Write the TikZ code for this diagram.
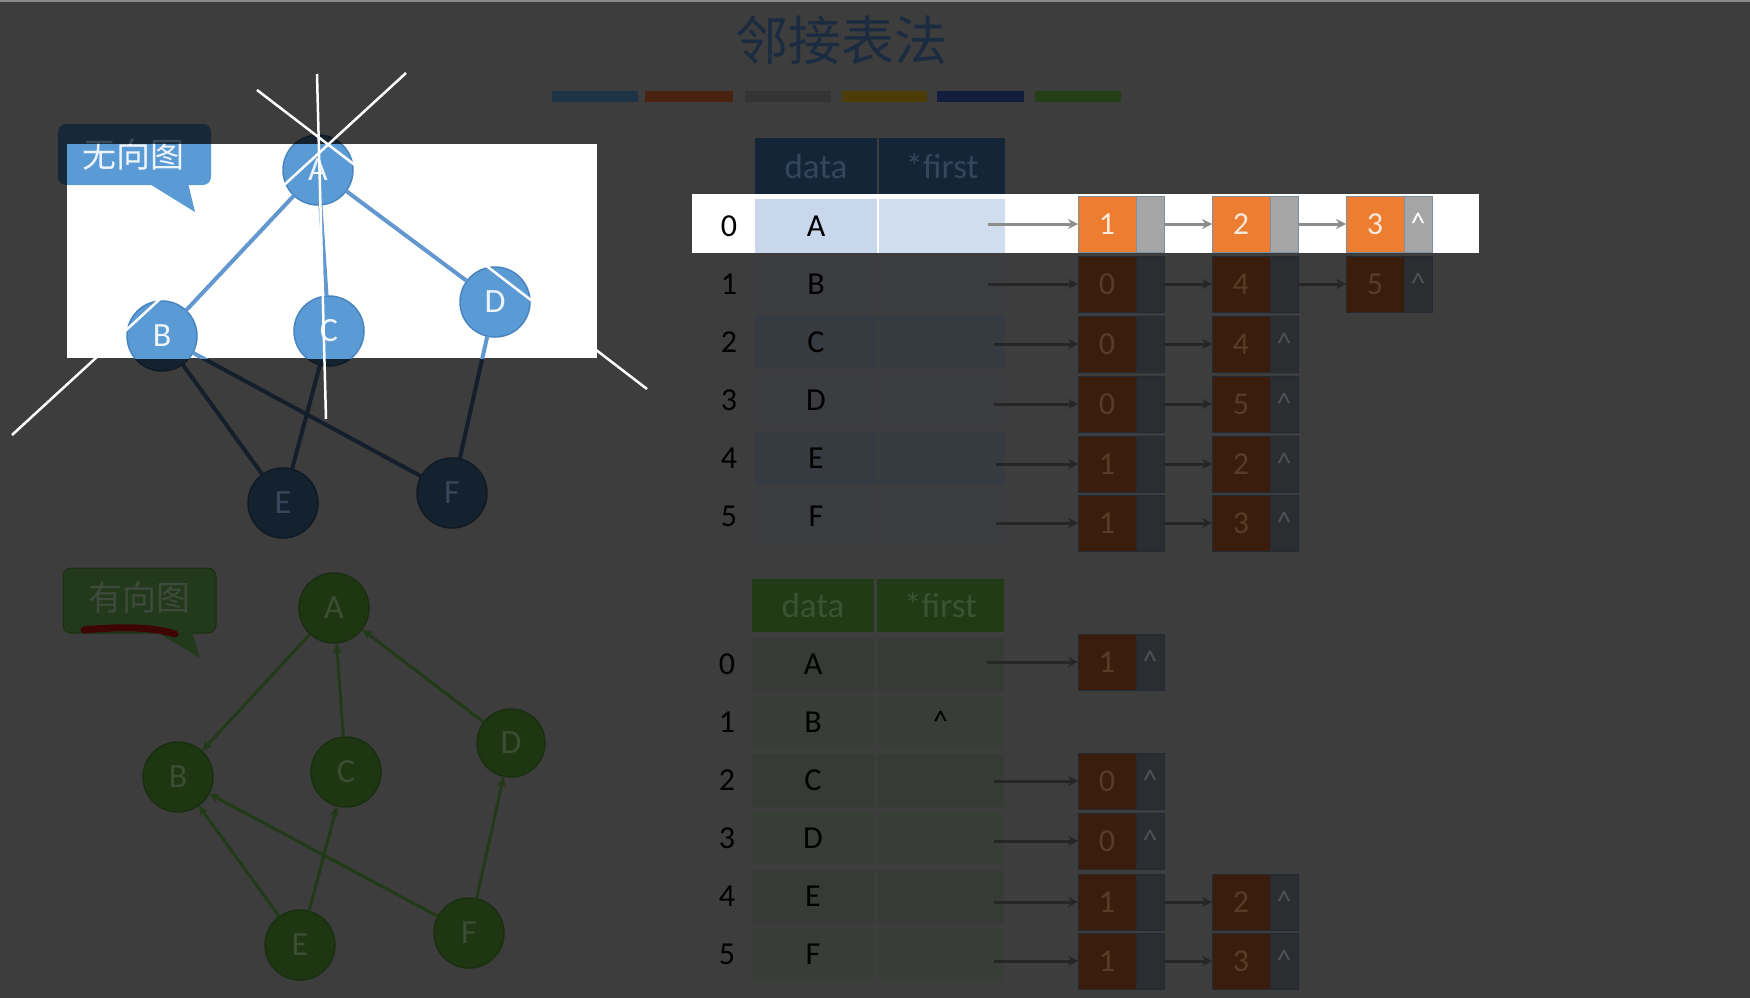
\documentclass[tikz,border=0pt]{standalone}
\usepackage{fontspec}
\setmainfont{Carlito}
\newfontfamily\cjk{Noto Sans CJK SC}
\usetikzlibrary{arrows.meta}
\definecolor{bg}{HTML}{3D3D3D}
\definecolor{topl}{HTML}{8A8A8A}
\definecolor{titlec}{HTML}{1B2B40}
\definecolor{barA}{HTML}{1F3347}
\definecolor{barB}{HTML}{4A2310}
\definecolor{barC}{HTML}{343434}
\definecolor{barD}{HTML}{4C3D06}
\definecolor{barE}{HTML}{131E3C}
\definecolor{barF}{HTML}{243F17}
\definecolor{ucalldim}{HTML}{172839}
\definecolor{ucalltdim}{HTML}{3A4A5D}
\definecolor{unfdim}{HTML}{14212F}
\definecolor{undrdim}{HTML}{101A25}
\definecolor{untdim}{HTML}{36475A}
\definecolor{uedim}{HTML}{141F2B}
\definecolor{ubright}{HTML}{5B9BD5}
\definecolor{ubrightdr}{HTML}{4A84BF}
\definecolor{uebright}{HTML}{6397CF}
\definecolor{utbright}{HTML}{EEF4FB}
\definecolor{gnf}{HTML}{1E3712}
\definecolor{gnd}{HTML}{192F10}
\definecolor{gnt}{HTML}{3A4E33}
\definecolor{gedge}{HTML}{213A18}
\definecolor{gcall}{HTML}{22391B}
\definecolor{gcallt}{HTML}{3E4A3C}
\definecolor{redu}{HTML}{3F0404}
\definecolor{thead}{HTML}{142537}
\definecolor{theadt}{HTML}{33465A}
\definecolor{trowa}{HTML}{363A41}
\definecolor{trowb}{HTML}{3A3C3F}
\definecolor{bhead}{HTML}{203B15}
\definecolor{bheadt}{HTML}{3B5233}
\definecolor{browa}{HTML}{363C35}
\definecolor{browb}{HTML}{393D38}
\definecolor{numdim}{HTML}{3A1D0D}
\definecolor{numtdim}{HTML}{5A3B27}
\definecolor{ptrdim}{HTML}{2B2D30}
\definecolor{listbdim}{HTML}{222A33}
\definecolor{caretdim}{HTML}{4E5257}
\definecolor{arrdim}{HTML}{262626}
\definecolor{numb}{HTML}{ED7D31}
\definecolor{numtb}{HTML}{FBE9DB}
\definecolor{ptrb}{HTML}{A5A5A5}
\definecolor{listbb}{HTML}{7F8FA0}
\definecolor{arrb}{HTML}{8C8C8C}
\definecolor{cella}{HTML}{C8D7EC}
\definecolor{cellf}{HTML}{D0DDEF}

\newcommand\lnode[5]{%
  \node[numbox, anchor=west] (#1n) at (#2,#3) {#4};
  \node[ptrbox, anchor=west] (#1p) at (#1n.east) {};
  \ifnum#5=1\relax \node[caret, anchor=base] (#1c) at ([yshift=-9pt]#1p.center) {\textasciicircum};\fi
}

\newcommand\ugraph[1]{%
  \fill[ucall, rounded corners=8pt] (58,124) rectangle (211,185);
  \fill[ucall] (148,183) -- (195,212) -- (188,183) -- cycle;
  \node[ucallt] (#1cl) at (133,155) {无向图};
  \node[un] (#1A) at (318,170) {A};
  \node[un] (#1B) at (162,336) {B};
  \node[un] (#1C) at (329,331) {C};
  \node[un] (#1D) at (495,302) {D};
  \node[un] (#1E) at (283,503) {E};
  \node[un] (#1F) at (452,493) {F};
  \draw[ue] (#1A) -- (#1B) (#1A) -- (#1C) (#1A) -- (#1D) (#1B) -- (#1E)
            (#1B) -- (#1F) (#1C) -- (#1E) (#1D) -- (#1F);
}

\begin{document}
\begin{tikzpicture}[x=1pt,y=-1pt,
  every node/.style={inner sep=0pt, outer sep=0pt},
  un/.style={circle, minimum size=70pt, draw=undrdim, fill=unfdim, line width=1.5pt, text=untdim, font=\fontsize{34}{40}\selectfont},
  ue/.style={draw=uedim, line width=4pt},
  ucall/.style={fill=ucalldim},
  ucallt/.style={text=ucalltdim, font=\cjk\fontsize{34}{40}\selectfont},
  gn/.style={circle, minimum size=70pt, draw=gnd, fill=gnf, line width=1.5pt, text=gnt, font=\fontsize{34}{40}\selectfont},
  gedg/.style={draw=gedge, line width=3pt, -{Stealth[length=11pt,width=9pt]}},
  hcell/.style={rectangle, minimum height=56pt, font=\fontsize{35}{40}\selectfont},
  dcell/.style={rectangle, minimum width=122pt, minimum height=54pt, text=black, font=\fontsize{32}{38}\selectfont},
  fcell/.style={rectangle, minimum width=126pt, minimum height=54pt, text=black, font=\fontsize{32}{38}\selectfont},
  idx/.style={text=black, font=\fontsize{32}{38}\selectfont},
  numbox/.style={rectangle, minimum width=58pt, minimum height=56pt, draw=listbdim, fill=numdim, text=numtdim, line width=1pt, font=\fontsize{32}{38}\selectfont},
  ptrbox/.style={rectangle, minimum width=28pt, minimum height=56pt, draw=listbdim, fill=ptrdim, line width=1pt},
  caret/.style={text=caretdim, font=\fontsize{30}{36}\selectfont},
  larr/.style={draw=arrdim, line width=3pt, -{Stealth[length=10pt,width=10pt]}},
  annot/.style={draw=white, line width=2.5pt}
]
\useasboundingbox (0,0) rectangle (1750,998);
\fill[bg] (0,0) rectangle (1750,998);
\fill[topl] (0,0) rectangle (1750,2);

% title and colour bars
\node[text=titlec, font=\cjk\fontsize{53}{62}\selectfont] (title) at (841,40) {邻接表法};
\fill[barA] (552,91) rectangle (638,102);
\fill[barB] (645,91) rectangle (733,102);
\fill[barC] (745,91) rectangle (831,102);
\fill[barD] (842,91) rectangle (927,102);
\fill[barE] (937,91) rectangle (1024,102);
\fill[barF] (1035,91) rectangle (1121,102);

% undirected graph, dimmed
\ugraph{d}

% directed graph
\fill[gcall, rounded corners=8pt, draw=gnd, line width=1pt] (63,568) rectangle (216,633);
\fill[gcall] (155,631) -- (200,658) -- (192,631) -- cycle;
\node[text=gcallt, font=\cjk\fontsize{34}{40}\selectfont] (gcl) at (139,598) {有向图};
\draw[redu, line width=7pt, line cap=round] (84,630) .. controls (115,627) and (150,626) .. (175,634);
\node[gn] (gA) at (334,608) {A};
\node[gn] (gB) at (178,777) {B};
\node[gn] (gC) at (346,772) {C};
\node[gn, minimum size=68pt] (gD) at (511,743) {D};
\node[gn] (gE) at (300,945) {E};
\node[gn] (gF) at (469,933) {F};
\draw[gedg] (gA) -- (gB);
\draw[gedg] (gC) -- (gA);
\draw[gedg] (gD) -- (gA);
\draw[gedg] (gE) -- (gB);
\draw[gedg] (gE) -- (gC);
\draw[gedg] (gF) -- (gB);
\draw[gedg] (gF) -- (gD);

% top table
\node[hcell, minimum width=122pt, fill=thead, text=theadt] (th1) at (816,166) {data};
\node[hcell, minimum width=126pt, fill=thead, text=theadt] (th2) at (942,166) {*first};
\foreach \i/\l/\c in {0/A/trowa,1/B/trowb,2/C/trowa,3/D/trowb,4/E/trowa,5/F/trowb}{
  \pgfmathsetmacro\yc{226+58*\i}
  \node[idx] (ti\i) at (729,\yc) {\i};
  \node[dcell, fill=\c] (td\i) at (816,\yc) {\l};
  \node[fcell, fill=\c] (tf\i) at (942,\yc) {};
}
% top lists
\coordinate (ts0) at (988,224);
\coordinate (ts1) at (988,284);
\coordinate (ts2) at (994,344);
\coordinate (ts3) at (994,404);
\coordinate (ts4) at (996,464);
\coordinate (ts5) at (996,523);
\lnode{t0a}{1078}{224}{1}{0}\lnode{t0b}{1212}{224}{2}{0}\lnode{t0c}{1346}{224}{3}{1}
\lnode{t1a}{1078}{284}{0}{0}\lnode{t1b}{1212}{284}{4}{0}\lnode{t1c}{1346}{284}{5}{1}
\lnode{t2a}{1078}{344}{0}{0}\lnode{t2b}{1212}{344}{4}{1}
\lnode{t3a}{1078}{404}{0}{0}\lnode{t3b}{1212}{404}{5}{1}
\lnode{t4a}{1078}{464}{1}{0}\lnode{t4b}{1212}{464}{2}{1}
\lnode{t5a}{1078}{523}{1}{0}\lnode{t5b}{1212}{523}{3}{1}
\draw[larr] (ts0) -- (t0an); \draw[larr] (t0ap) -- (t0bn); \draw[larr] (t0bp) -- (t0cn);
\draw[larr] (ts1) -- (t1an); \draw[larr] (t1ap) -- (t1bn); \draw[larr] (t1bp) -- (t1cn);
\draw[larr] (ts2) -- (t2an); \draw[larr] (t2ap) -- (t2bn);
\draw[larr] (ts3) -- (t3an); \draw[larr] (t3ap) -- (t3bn);
\draw[larr] (ts4) -- (t4an); \draw[larr] (t4ap) -- (t4bn);
\draw[larr] (ts5) -- (t5an); \draw[larr] (t5ap) -- (t5bn);

% bottom table
\node[hcell, minimum width=122pt, minimum height=53pt, fill=bhead, text=bheadt] (bh1) at (813,605) {data};
\node[hcell, minimum width=127pt, minimum height=53pt, fill=bhead, text=bheadt] (bh2) at (940.5,605) {*first};
\foreach \i/\l/\c in {0/A/browa,1/B/browb,2/C/browa,3/D/browb,4/E/browa,5/F/browb}{
  \pgfmathsetmacro\yc{664.5+58*\i}
  \node[idx] (bi\i) at (727,\yc) {\i};
  \node[dcell, minimum height=53pt, fill=\c] (bd\i) at (813,\yc) {\l};
  \node[fcell, minimum width=127pt, minimum height=53pt, fill=\c] (bf\i) at (940.5,\yc) {};
}
\node[caret, text=black, anchor=base] (bnull) at ([yshift=-9pt]bf1.center) {\textasciicircum};
\coordinate (bs0) at (987,662);
\coordinate (bs2) at (994,781);
\coordinate (bs3) at (994,841);
\coordinate (bs4) at (994,902);
\coordinate (bs5) at (994,961);
\lnode{b0a}{1078}{662}{1}{1}
\lnode{b2a}{1078}{781}{0}{1}
\lnode{b3a}{1078}{841}{0}{1}
\lnode{b4a}{1078}{902}{1}{0}\lnode{b4b}{1212}{902}{2}{1}
\lnode{b5a}{1078}{961}{1}{0}\lnode{b5b}{1212}{961}{3}{1}
\draw[larr] (bs0) -- (b0an);
\draw[larr] (bs2) -- (b2an);
\draw[larr] (bs3) -- (b3an);
\draw[larr] (bs4) -- (b4an); \draw[larr] (b4ap) -- (b4bn);
\draw[larr] (bs5) -- (b5an); \draw[larr] (b5ap) -- (b5bn);

% spotlight 1: undirected graph
\begin{scope}
  \clip (67,144) rectangle (597,358);
  \fill[white] (67,144) rectangle (597,358);
  \tikzset{
    un/.style={circle, minimum size=70pt, draw=ubrightdr, fill=ubright, line width=1.5pt, text=utbright, font=\fontsize{34}{40}\selectfont},
    ue/.style={draw=uebright, line width=4pt},
    ucall/.style={fill=ubright},
    ucallt/.style={text=utbright, font=\cjk\fontsize{34}{40}\selectfont}}
  \ugraph{h}
\end{scope}

% spotlight 2: row 0 of the top table
\begin{scope}
  \clip (692,194) rectangle (1479,253);
  \fill[white] (692,194) rectangle (1479,253);
  \node[idx] (hi0) at (729,226) {0};
  \node[dcell, fill=cella] (hd0) at (816,226) {A};
  \node[fcell, fill=cellf] (hf0) at (942,226) {};
  \tikzset{
    numbox/.append style={fill=numb, text=numtb, draw=listbb},
    ptrbox/.append style={fill=ptrb, draw=listbb},
    caret/.append style={text=white},
    larr/.append style={draw=arrb}}
  \coordinate (hs0) at (988,224);
  \lnode{h0a}{1078}{224}{1}{0}\lnode{h0b}{1212}{224}{2}{0}\lnode{h0c}{1346}{224}{3}{1}
  \draw[larr] (hs0) -- (h0an); \draw[larr] (h0ap) -- (h0bn); \draw[larr] (h0bp) -- (h0cn);
\end{scope}

% white annotation strokes
\coordinate (w1a) at (257,90);  \coordinate (w1b) at (647,389);
\coordinate (w2a) at (406,73);  \coordinate (w2b) at (12,435);
\coordinate (w3a) at (317,74);  \coordinate (w3b) at (326,419);
\draw[annot] (w1a) -- (w1b);
\draw[annot] (w2a) -- (w2b);
\draw[annot] (w3a) -- (w3b);
\end{tikzpicture}
\end{document}
